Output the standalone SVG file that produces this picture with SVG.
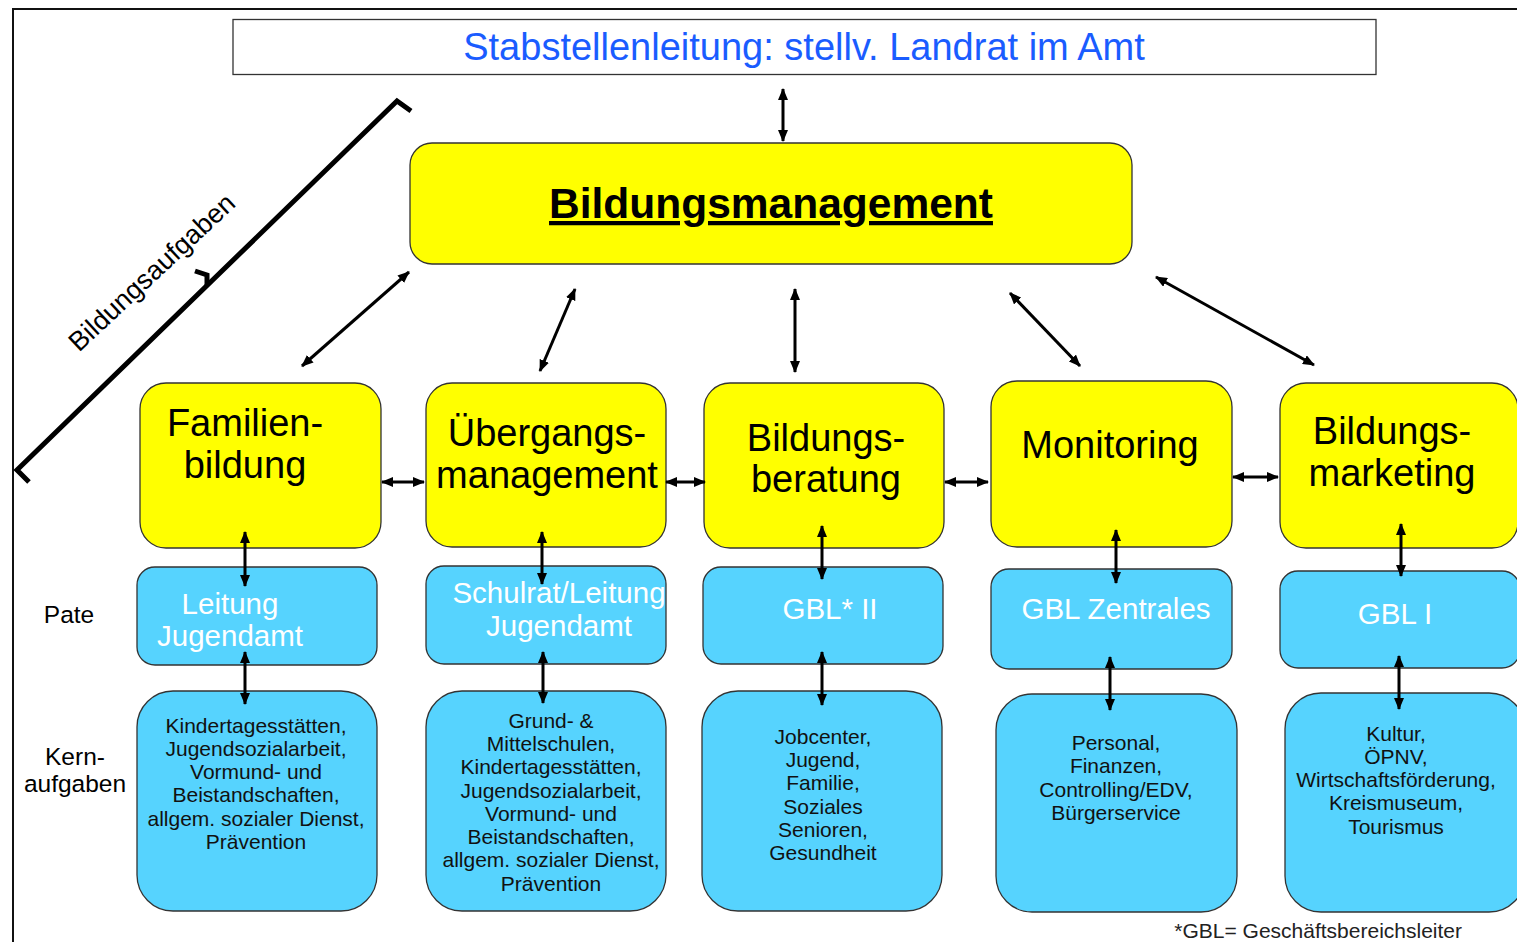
<svg xmlns="http://www.w3.org/2000/svg" width="1517" height="942" viewBox="0 0 1517 942">
<defs>
<marker id="ah" viewBox="0 0 12 10" refX="11" refY="5" markerWidth="12" markerHeight="10" markerUnits="userSpaceOnUse" orient="auto-start-reverse">
<path d="M0,0 L12,5 L0,10 Z" fill="#000"/>
</marker>
<style>
.y{fill:#FFFF00;stroke:#333;stroke-width:1.3}
.b{fill:#56D3FE;stroke:#333;stroke-width:1.3}
.ty{font-family:"Liberation Sans",Arial,sans-serif;font-size:38px;fill:#000;text-anchor:middle}
.tw{font-family:"Liberation Sans",Arial,sans-serif;font-size:29.5px;fill:#fff;text-anchor:middle}
.tk{font-family:"Liberation Sans",Arial,sans-serif;font-size:21px;fill:#111;text-anchor:middle}
.tl{font-family:"Liberation Sans",Arial,sans-serif;font-size:24.5px;fill:#000;text-anchor:middle}
.c{stroke:#000;stroke-width:3;fill:none;marker-start:url(#ah);marker-end:url(#ah)}
</style>
</defs>
<rect x="0" y="0" width="1517" height="942" fill="#fff"/>
<path d="M13,942 L13,9 L1517,9" fill="none" stroke="#111" stroke-width="2"/>

<g id="stab">
<rect x="233" y="19.5" width="1143" height="55" fill="#fff" stroke="#333" stroke-width="1.3"/>
<text x="804" y="60" font-family="Liberation Sans,Arial,sans-serif" font-size="38" fill="#1a5cff" text-anchor="middle">Stabstellenleitung: stellv. Landrat im Amt</text>
</g>

<g id="bracket">
<path d="M29,482 L17,470 L397,101 L411,111" fill="none" stroke="#000" stroke-width="5"/>
<path d="M195,271 L207,275 L207,285" fill="none" stroke="#000" stroke-width="5"/>
<text x="0" y="0" transform="translate(158,279) rotate(-43)" font-family="Liberation Sans,Arial,sans-serif" font-size="27" fill="#000" text-anchor="middle">Bildungsaufgaben</text>
</g>

<g id="bm">
<rect class="y" x="410" y="143" width="722" height="121" rx="22"/>
<text x="771" y="218" font-family="Liberation Sans,Arial,sans-serif" font-size="42.5" font-weight="bold" fill="#000" text-anchor="middle" text-decoration="underline">Bildungsmanagement</text>
</g>

<g id="familienbildung">
<rect class="y" x="140" y="383" width="241" height="165" rx="26"/>
<text class="ty" x="245" y="436">Familien-</text>
<text class="ty" x="245" y="478">bildung</text>
</g>
<g id="uebergang">
<rect class="y" x="426" y="383" width="240" height="164" rx="26"/>
<text class="ty" x="547" y="446">Übergangs-</text>
<text class="ty" x="547" y="488">management</text>
</g>
<g id="beratung">
<rect class="y" x="704" y="383" width="240" height="165" rx="26"/>
<text class="ty" x="826" y="451">Bildungs-</text>
<text class="ty" x="826" y="492">beratung</text>
</g>
<g id="monitoring">
<rect class="y" x="991" y="381" width="241" height="166" rx="26"/>
<text class="ty" x="1110" y="458">Monitoring</text>
</g>
<g id="marketing">
<rect class="y" x="1280" y="383" width="238" height="165" rx="26"/>
<text class="ty" x="1392" y="444">Bildungs-</text>
<text class="ty" x="1392" y="486">marketing</text>
</g>

<g id="pate1">
<rect class="b" x="137" y="567" width="240" height="98" rx="18"/>
<text class="tw" x="230" y="614">Leitung</text>
<text class="tw" x="230" y="646">Jugendamt</text>
</g>
<g id="pate2">
<rect class="b" x="426" y="566" width="240" height="98" rx="18"/>
<text class="tw" x="559" y="603">Schulrat/Leitung</text>
<text class="tw" x="559" y="636">Jugendamt</text>
</g>
<g id="pate3">
<rect class="b" x="703" y="567" width="240" height="97" rx="18"/>
<text class="tw" x="830" y="619">GBL* II</text>
</g>
<g id="pate4">
<rect class="b" x="991" y="569" width="241" height="100" rx="18"/>
<text class="tw" x="1116" y="619">GBL Zentrales</text>
</g>
<g id="pate5">
<rect class="b" x="1280" y="571" width="240" height="97" rx="18"/>
<text class="tw" x="1395" y="624">GBL I</text>
</g>

<g id="kern1">
<rect class="b" x="137" y="691" width="240" height="220" rx="36"/>
<text class="tk" x="256" y="733">Kindertagesstätten,</text>
<text class="tk" x="256" y="756">Jugendsozialarbeit,</text>
<text class="tk" x="256" y="779">Vormund- und</text>
<text class="tk" x="256" y="802">Beistandschaften,</text>
<text class="tk" x="256" y="826">allgem. sozialer Dienst,</text>
<text class="tk" x="256" y="849">Prävention</text>
</g>
<g id="kern2">
<rect class="b" x="426" y="691" width="240" height="220" rx="36"/>
<text class="tk" x="551" y="728">Grund- &amp;</text>
<text class="tk" x="551" y="751">Mittelschulen,</text>
<text class="tk" x="551" y="774">Kindertagesstätten,</text>
<text class="tk" x="551" y="798">Jugendsozialarbeit,</text>
<text class="tk" x="551" y="821">Vormund- und</text>
<text class="tk" x="551" y="844">Beistandschaften,</text>
<text class="tk" x="551" y="867">allgem. sozialer Dienst,</text>
<text class="tk" x="551" y="891">Prävention</text>
</g>
<g id="kern3">
<rect class="b" x="702" y="691" width="240" height="220" rx="36"/>
<text class="tk" x="823" y="744">Jobcenter,</text>
<text class="tk" x="823" y="767">Jugend,</text>
<text class="tk" x="823" y="790">Familie,</text>
<text class="tk" x="823" y="814">Soziales</text>
<text class="tk" x="823" y="837">Senioren,</text>
<text class="tk" x="823" y="860">Gesundheit</text>
</g>
<g id="kern4">
<rect class="b" x="996" y="694" width="241" height="218" rx="36"/>
<text class="tk" x="1116" y="750">Personal,</text>
<text class="tk" x="1116" y="773">Finanzen,</text>
<text class="tk" x="1116" y="797">Controlling/EDV,</text>
<text class="tk" x="1116" y="820">Bürgerservice</text>
</g>
<g id="kern5">
<rect class="b" x="1285" y="693" width="240" height="219" rx="36"/>
<text class="tk" x="1396" y="741">Kultur,</text>
<text class="tk" x="1396" y="764">ÖPNV,</text>
<text class="tk" x="1396" y="787">Wirtschaftsförderung,</text>
<text class="tk" x="1396" y="810">Kreismuseum,</text>
<text class="tk" x="1396" y="834">Tourismus</text>
</g>

<g id="labels">
<text class="tl" x="69" y="623">Pate</text>
<text class="tl" x="75" y="765">Kern-</text>
<text class="tl" x="75" y="792">aufgaben</text>
<text x="1462" y="938" font-family="Liberation Sans,Arial,sans-serif" font-size="21" fill="#222" text-anchor="end">*GBL= Geschäftsbereichsleiter</text>
</g>

<g id="connectors">
<line class="c" x1="783" y1="89" x2="783" y2="141"/>
<line class="c" x1="302" y1="366" x2="409" y2="272"/>
<line class="c" x1="540" y1="371" x2="575" y2="289"/>
<line class="c" x1="795" y1="372" x2="795" y2="289"/>
<line class="c" x1="1010" y1="293" x2="1080" y2="366"/>
<line class="c" x1="1156" y1="277" x2="1314" y2="365"/>
<line class="c" x1="382" y1="482" x2="424" y2="482"/>
<line class="c" x1="666" y1="482" x2="705" y2="482"/>
<line class="c" x1="945" y1="482" x2="988" y2="482"/>
<line class="c" x1="1233" y1="477" x2="1278" y2="477"/>
<line class="c" x1="245" y1="532" x2="245" y2="586"/>
<line class="c" x1="542" y1="532" x2="542" y2="584"/>
<line class="c" x1="822" y1="526" x2="822" y2="579"/>
<line class="c" x1="1116" y1="530" x2="1116" y2="583"/>
<line class="c" x1="1401" y1="524" x2="1401" y2="576"/>
<line class="c" x1="245" y1="652" x2="245" y2="704"/>
<line class="c" x1="543" y1="652" x2="543" y2="703"/>
<line class="c" x1="822" y1="652" x2="822" y2="705"/>
<line class="c" x1="1110" y1="657" x2="1110" y2="710"/>
<line class="c" x1="1399" y1="656" x2="1399" y2="709"/>
</g>
</svg>
